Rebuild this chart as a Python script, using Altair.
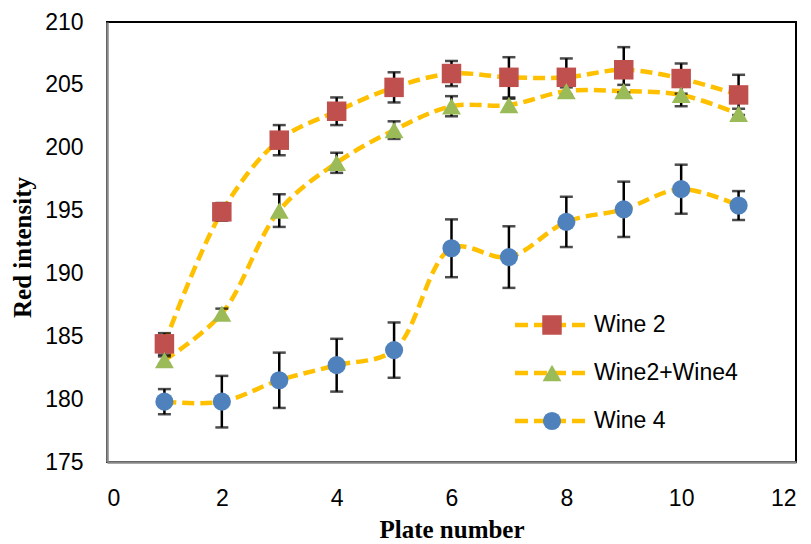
import altair as alt
import pandas as pd

plates = list(range(1, 12))
series = ["Wine 2", "Wine2+Wine4", "Wine 4"]
wine2 = [184.4, 194.9, 200.6, 202.9, 204.8, 205.9, 205.6, 205.6, 206.2, 205.5, 204.2]
wine2_err = [0.85, 0.7, 1.2, 1.1, 1.2, 1.0, 1.6, 1.5, 1.8, 1.2, 1.6]
mix = [183.1, 186.8, 195.0, 198.8, 201.4, 203.3, 203.4, 204.5, 204.5, 204.2, 202.7]
mix_err = [0.3, 0.4, 1.3, 0.8, 0.7, 0.8, 0.5, 0.3, 0.5, 0.9, 0.4]
wine4 = [179.8, 179.8, 181.5, 182.7, 183.9, 192.0, 191.3, 194.1, 195.1, 196.7, 195.4]
wine4_err = [1.0, 2.05, 2.2, 2.1, 2.2, 2.3, 2.45, 2.0, 2.2, 1.95, 1.15]

x_ticks = [0, 2, 4, 6, 8, 10, 12]
y_ticks = [175, 180, 185, 190, 195, 200, 205, 210]

rows = []
for name, vals, errs in [(series[0], wine2, wine2_err), (series[1], mix, mix_err), (series[2], wine4, wine4_err)]:
    for p, v, e in zip(plates, vals, errs):
        rows.append({"series": name, "plate": p, "value": v, "lo": v - e, "hi": v + e})
df = pd.DataFrame(rows)
leg = pd.DataFrame({"series": series})

TITLE_FONT = "Liberation Serif"
LABEL_FONT = "Liberation Sans"
ORANGE = "#FFC000"
shape_scale = alt.Scale(domain=series, range=["square", "triangle-up", "circle"])
color_scale = alt.Scale(domain=series, range=["#C0504D", "#9BBB59", "#4F81BD"])
size_scale = alt.Scale(domain=series, range=[380, 330, 300])
yscale = alt.Scale(domain=[175, 210], nice=False, zero=False)

X = alt.X("plate:Q", scale=alt.Scale(domain=[0, 12], nice=False),
          axis=alt.Axis(values=x_ticks, format="d", title="Plate number", grid=False, ticks=False,
                        labelPadding=25, titleY=75, titleBaseline="alphabetic"))
Y = alt.Y("value:Q", scale=yscale,
          axis=alt.Axis(values=y_ticks, format="d", title="Red intensity", grid=False, ticks=False,
                        labelPadding=24, titleX=-85, titleY=225, titleAngle=270,
                        titleAlign="center", titleBaseline="middle"))

base = alt.Chart(df)
lines = base.mark_line(color=ORANGE, strokeWidth=4.5, strokeDash=[12, 6],
                       interpolate="catmull-rom").encode(x=X, y=Y, detail="series:N")
err_rule = base.mark_rule(color="black", strokeWidth=2.5).encode(
    x="plate:Q", y=alt.Y("lo:Q", scale=yscale), y2="hi:Q")
cap_lo = base.mark_tick(color="black", orient="horizontal", size=13, thickness=2.5).encode(
    x="plate:Q", y=alt.Y("lo:Q", scale=yscale))
cap_hi = base.mark_tick(color="black", orient="horizontal", size=13, thickness=2.5).encode(
    x="plate:Q", y=alt.Y("hi:Q", scale=yscale))
points = base.mark_point(filled=True, opacity=1).encode(
    x="plate:Q", y="value:Q",
    shape=alt.Shape("series:N", scale=shape_scale, legend=None),
    color=alt.Color("series:N", scale=color_scale, legend=None),
    size=alt.Size("series:N", scale=size_scale, legend=None))

data_layer = alt.layer(lines, err_rule, cap_lo, cap_hi, points)

LY = alt.Y("series:N", scale=alt.Scale(type="point", domain=series, range=[303, 399], padding=0), axis=None)
lg = alt.Chart(leg)
leg_line = lg.mark_rule(color=ORANGE, strokeWidth=4.5, strokeDash=[13, 6]).encode(
    x=alt.value(408), x2=alt.value(483), y=LY)
leg_pt = lg.mark_point(filled=True, opacity=1).encode(
    x=alt.value(445), y=LY,
    shape=alt.Shape("series:N", scale=shape_scale, legend=None),
    color=alt.Color("series:N", scale=color_scale, legend=None),
    size=alt.Size("series:N", scale=size_scale, legend=None))
leg_txt = lg.mark_text(align="left", baseline="middle", font=LABEL_FONT, fontSize=23, color="black"
                       ).encode(x=alt.value(487), y=LY, text="series:N")
legend_layer = alt.layer(leg_line, leg_pt, leg_txt)

chart = alt.layer(data_layer, legend_layer).resolve_scale(y="independent").properties(
    width=689, height=440,
    autosize=alt.AutoSizeParams(type="none"),
    padding={"left": 107, "top": 22, "right": 15, "bottom": 82},
    background="white",
).configure_view(stroke="black", strokeWidth=2).configure_axis(
    domainColor="#888888", domainWidth=2.5,
    labelFont=LABEL_FONT, labelFontSize=23, labelColor="black",
    titleFont=TITLE_FONT, titleFontSize=25, titleFontWeight="bold", titleColor="black",
)

chart.save("out.html", embed_options={"renderer": "svg", "actions": False})
